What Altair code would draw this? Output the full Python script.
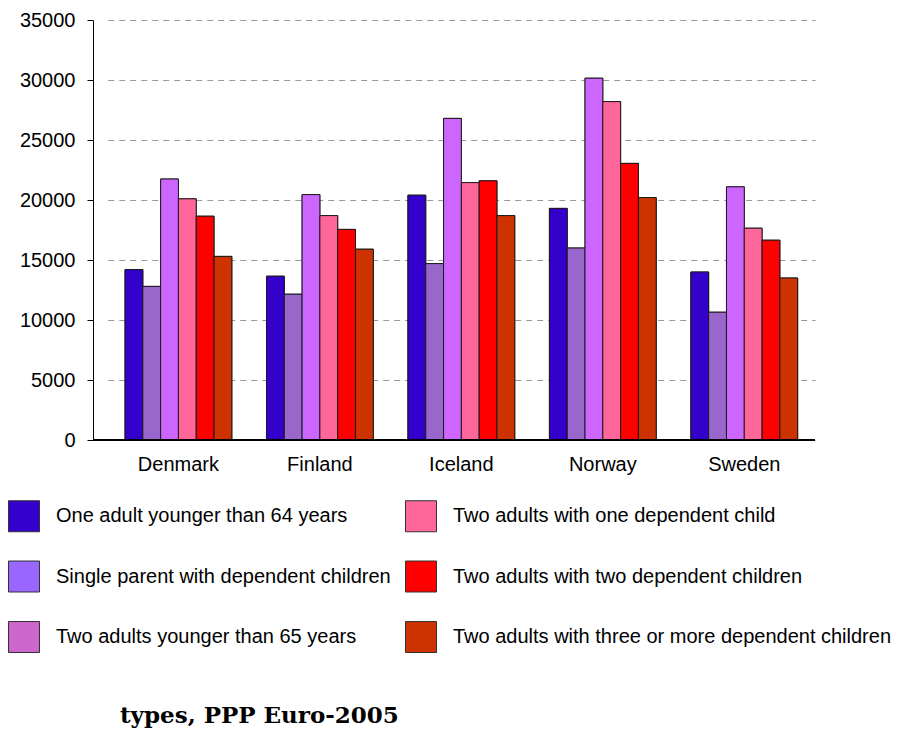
import altair as alt
import pandas as pd

# Countries on the x axis and household types shown as grouped bars
countries = ["Denmark", "Finland", "Iceland", "Norway", "Sweden"]
household_types = [
    "One adult younger than 64 years",
    "Single parent with dependent children",
    "Two adults younger than 65 years",
    "Two adults with one dependent child",
    "Two adults with two dependent children",
    "Two adults with three or more dependent children",
]

# Values in PPP Euro-2005, one list per household type (order follows countries)
one_adult = [14200, 13650, 20400, 19300, 14000]
single_parent = [12800, 12150, 14700, 16000, 10650]
two_adults = [21750, 20450, 26800, 30150, 21100]
two_adults_one_child = [20100, 18700, 21450, 28200, 17650]
two_adults_two_children = [18650, 17550, 21600, 23050, 16650]
two_adults_three_plus = [15300, 15900, 18700, 20200, 13500]

y_ticks = [0, 5000, 10000, 15000, 20000, 25000, 30000, 35000]
caption = "types, PPP Euro-2005"

bar_colors = ["#3300CC", "#9966CC", "#CC66FF", "#FF6699", "#FF0000", "#CC3300"]
legend_colors = ["#3300CC", "#9966FF", "#CC66CC", "#FF6699", "#FF0000", "#CC3300"]

series = [one_adult, single_parent, two_adults, two_adults_one_child,
          two_adults_two_children, two_adults_three_plus]

rows = []
for i, (name, vals) in enumerate(zip(household_types, series)):
    for c, v in zip(countries, vals):
        rows.append({"country": c, "household": name, "order": i,
                     "value": v, "bar_color": bar_colors[i]})
df = pd.DataFrame(rows)

W, H = 722, 420
FONT = "Liberation Sans"

x_enc = alt.X(
    "country:N",
    sort=countries,
    scale=alt.Scale(domain=countries, range=[14.7, W],
                    paddingInner=0.245, paddingOuter=0.1225),
    axis=alt.Axis(title=None, labelAngle=0, ticks=False, tickSize=0,
                  domain=False, grid=False, labelFontSize=20, labelFont=FONT,
                  labelColor="black", labelPadding=14),
)
xoff_enc = alt.XOffset("order:O", scale=alt.Scale(paddingInner=0, paddingOuter=0))
y_enc = alt.Y(
    "value:Q",
    scale=alt.Scale(domain=[0, 35000], nice=False),
    axis=alt.Axis(title=None, values=y_ticks, format="d", grid=True,
                  gridDash=[6, 5], gridColor="#999999", gridWidth=1,
                  domainColor="black", tickColor="black", tickSize=6,
                  labelPadding=12, labelFontSize=20, labelFont=FONT,
                  labelColor="black"),
)

# Hidden layer underneath the bars, carrying the legend (two columns of three)
legend_layer = alt.Chart(df).mark_bar(stroke="#333333", strokeWidth=1).encode(
    x=x_enc,
    xOffset=xoff_enc,
    y=y_enc,
    color=alt.Color(
        "household:N",
        scale=alt.Scale(domain=household_types, range=legend_colors),
        legend=alt.Legend(
            title=None, orient="none", legendX=-85, legendY=480,
            columns=2, symbolType="square", symbolSize=961,
            symbolStrokeColor="#333333", symbolStrokeWidth=1,
            symbolOpacity=1, labelFontSize=20, labelFont=FONT,
            labelColor="black", labelOffset=16, labelLimit=600,
            rowPadding=24.5, columnPadding=12, padding=0,
        ),
    ),
)

bars = alt.Chart(df).mark_bar(stroke="#1a1a1a", strokeWidth=1).encode(
    x=x_enc,
    xOffset=xoff_enc,
    y=y_enc,
    fill=alt.Fill("bar_color:N", scale=None),
)

# Baseline of the category axis, across the full plot width
baseline = alt.Chart(df).mark_rule(color="black", strokeWidth=1).encode(
    y=alt.datum(0),
    x=alt.value(0),
    x2=alt.value(W),
)

caption_text = alt.Chart(pd.DataFrame({"t": [caption]})).mark_text(
    font="DejaVu Serif", fontWeight="bold", fontSize=23, color="black",
    align="left", baseline="alphabetic",
).encode(text="t:N", x=alt.value(27), y=alt.value(703))

chart = alt.layer(legend_layer, bars, baseline, caption_text).properties(
    width=W,
    height=H,
    padding={"left": 93, "top": 20, "right": 83, "bottom": 290},
    autosize=alt.AutoSizeParams(type="none"),
    background="white",
).configure_view(stroke=None)

chart.save("out.html", embed_options={"renderer": "svg", "actions": False})
